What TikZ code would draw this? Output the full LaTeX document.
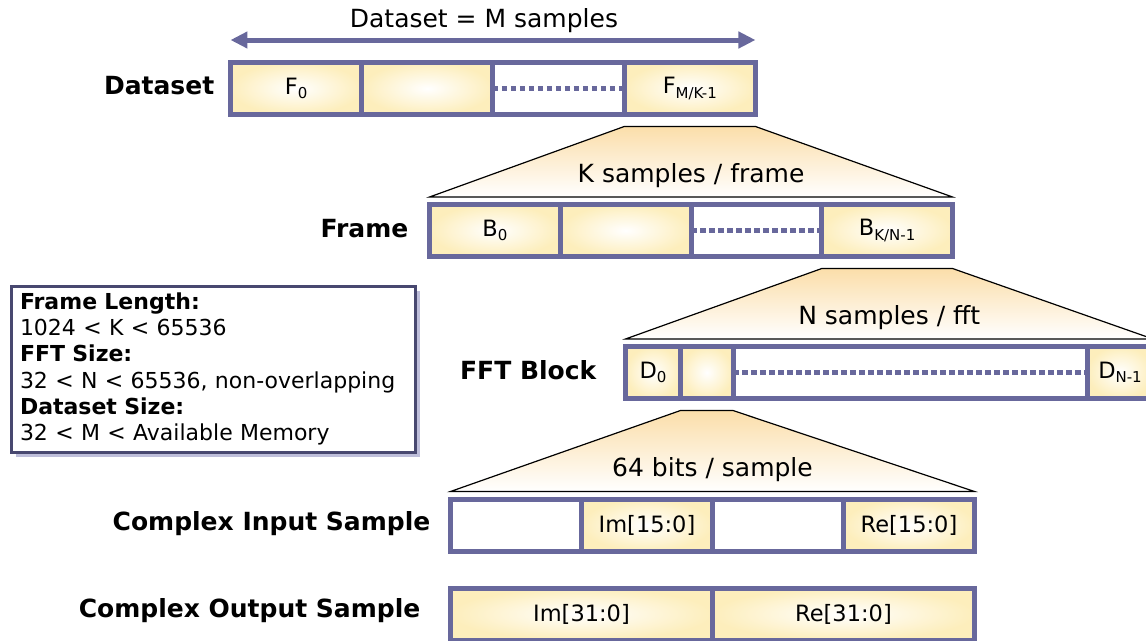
\documentclass[tikz,border=0pt]{standalone}
\usepackage{fontspec}
\setmainfont{DejaVu Sans}
\usepackage{xcolor}
\usetikzlibrary{arrows.meta,positioning,shadows}
\definecolor{edgeblue}{RGB}{104,104,156}
\definecolor{cellyellow}{RGB}{253,238,188}
\definecolor{fanpeach}{RGB}{251,222,170}
\definecolor{boxline}{RGB}{72,72,112}
\definecolor{shadowgrey}{RGB}{190,190,218}
\newcommand\idx[1]{\raisebox{-0.35ex}{\fontsize{15}{15}\selectfont #1}}
\tikzset{
  bar/.style     = {rectangle, draw=edgeblue, line width=5pt, outer sep=0pt, inner sep=0pt,
                    minimum height=52pt, minimum width=131pt, font=\fontsize{22.5}{26}\selectfont},
  cell/.style    = {bar, inner color=white, outer color=cellyellow},
  blank/.style   = {bar, fill=white},
  dots/.style    = {draw=edgeblue, line width=5.5pt, dash pattern=on 5.5pt off 3.5pt},
  fan/.style     = {draw=black, line width=1.2pt, top color=fanpeach, bottom color=white},
  fantext/.style = {above=15pt, anchor=base, font=\fontsize{25}{28}\selectfont},
  lbl/.style     = {anchor=east, inner sep=0pt, font=\fontsize{25}{28}\selectfont\bfseries},
  span/.style    = {{Triangle[length=17pt,width=16pt]}-{Triangle[length=17pt,width=16pt]},
                    draw=edgeblue, line width=5pt},
  info/.style    = {draw=boxline, line width=3pt, fill=white, align=left, text width=386pt,
                    inner xsep=9pt, minimum height=166pt, font=\fontsize{22}{26.3}\selectfont,
                    drop shadow={shadow xshift=4.5pt, shadow yshift=-4.5pt, fill=shadowgrey, opacity=1}},
}

\begin{document}
\begin{tikzpicture}[x=1pt, y=-1pt, node distance=0pt]
  \useasboundingbox (0,0) rectangle (1146,640);

  % dataset
  \node[cell, minimum width=131.25pt] (f0) at (296.1,88.5) {F\idx{0}};
  \node[cell, minimum width=131.25pt, right=of f0] (f1) {};
  \node[blank, minimum width=131.25pt, right=of f1] (fdots) {};
  \node[cell, minimum width=131.25pt, right=of fdots] (flast) {F\idx{M/K-1}};
  \draw[dots] (fdots.west) -- (fdots.east);
  \node[lbl, left=16pt of f0, yshift=3pt] (dlbl) {Dataset};
  \draw[span] ([yshift=22.5pt]f0.north west) -- node[above=13pt, anchor=base, xshift=-9pt, font=\fontsize{25}{28}\selectfont] (mtxt) {Dataset = M samples} ([yshift=22.5pt]flast.north east);

  % frame
  \node[cell, minimum width=130.75pt] (b0) at (494.9,230.5) {B\idx{0}};
  \node[cell, minimum width=130.75pt, right=of b0] (b1) {};
  \node[blank, minimum width=130.75pt, right=of b1] (bdots) {};
  \node[cell, minimum width=130.75pt, right=of bdots] (blast) {B\idx{K/N-1}};
  \draw[dots] (bdots.west) -- (bdots.east);
  \node[lbl, left=21pt of b0, yshift=2pt] (flbl) {Frame};
  \draw[fan] ([yshift=-12pt]flast.south west) -- ([yshift=-12pt]flast.south east)
    -- ([yshift=7.5pt]blast.north east) -- node[fantext] (ktxt) {K samples / frame}
    ([yshift=7.5pt]b0.north west) -- cycle;

  % fft block
  \node[cell, minimum width=55pt] (d0) at (653,372.5) {D\idx{0}};
  \node[cell, minimum width=52.5pt, right=of d0] (d1) {};
  \node[blank, minimum width=354pt, right=of d1] (ddots) {};
  \node[cell, minimum width=66pt, right=of ddots] (dlast) {D\idx{N-1}};
  \draw[dots] (ddots.west) -- (ddots.east);
  \node[lbl, left=29pt of d0, yshift=2pt] (blbl) {FFT Block};
  \draw[fan] ([yshift=-12pt]blast.south west) -- ([yshift=-12pt]blast.south east)
    -- ([yshift=7.5pt]dlast.north east) -- node[fantext] (ntxt) {N samples / fft}
    ([yshift=7.5pt]d0.north west) -- cycle;

  % input sample
  \node[blank] (i0) at (516,525) {};
  \node[cell, right=of i0] (i1) {Im[15:0]};
  \node[blank, right=of i1] (i2) {};
  \node[cell, right=of i2] (i3) {Re[15:0]};
  \node[lbl, left=20pt of i0, yshift=1pt] (ilbl) {Complex Input Sample};
  \draw[fan] ([yshift=-12pt]d1.south west) -- ([yshift=-12pt]d1.south east)
    -- ([yshift=7.5pt]i3.north east) -- node[fantext] (btxt) {64 bits / sample}
    ([yshift=7.5pt]i0.north west) -- cycle;

  % output sample
  \node[cell, minimum width=262pt] (o0) at (581.5,614) {Im[31:0]};
  \node[cell, minimum width=262pt, right=of o0] (o1) {Re[31:0]};
  \node[lbl, left=30pt of o0, yshift=3pt] (olbl) {Complex Output Sample};

  % limits
  \node[info, anchor=north west] (limits) at (9.5,284.5)
    {\textbf{Frame Length:}\\1024 < K < 65536\\\textbf{FFT Size:}\\32 < N < 65536, non-overlapping\\\textbf{Dataset Size:}\\32 < M < Available Memory};
\end{tikzpicture}
\end{document}
